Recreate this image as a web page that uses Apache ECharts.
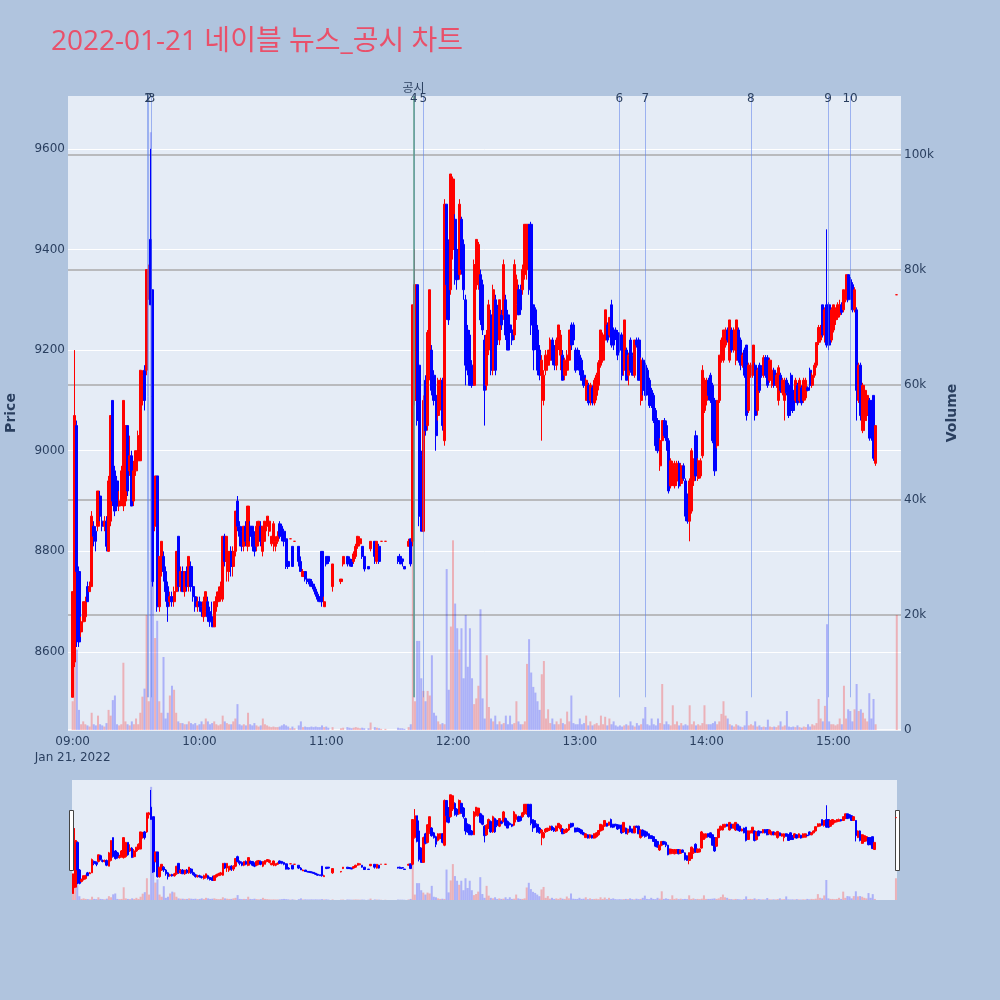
<!DOCTYPE html>
<html>
<head>
<meta charset="utf-8">
<script src="https://cdn.jsdelivr.net/npm/echarts/dist/echarts.min.js"></script>
<style>
html, body { margin: 0; padding: 0; background: #b0c4de; }
#chart { width: 1000px; height: 1000px; }
</style>
</head>
<body>
<div id="chart"></div>
<script>
var chartTitle = '2022-01-21 네이블 뉴스_공시 차트';
var dateLabel = 'Jan 21, 2022';

// one row per traded minute: [minute of hour, open, close, low, high, volume (thousand)]
var h09 = [
  [0, 8510, 8720, 8510, 8720, 5], [1, 8580, 9070, 8570, 9200, 13], [2, 9050, 8760, 8610, 9060, 14],
  [3, 8760, 8620, 8610, 8770, 3.5], [4, 8640, 8660, 8630, 8670, 1], [5, 8660, 8700, 8650, 8700, 1.5],
  [6, 8670, 8700, 8660, 8710, 1], [7, 8730, 8700, 8700, 8740, 0.8], [8, 8720, 8730, 8720, 8740, 0.6],
  [9, 8730, 8870, 8730, 8880, 3], [10, 8850, 8830, 8810, 8860, 1], [11, 8840, 8820, 8800, 8850, 0.8],
  [12, 8850, 8920, 8840, 8920, 2.5], [13, 8910, 8870, 8860, 8920, 1], [14, 8860, 8850, 8840, 8870, 0.8],
  [15, 8850, 8860, 8840, 8870, 0.6], [16, 8860, 8810, 8800, 8870, 1.2], [17, 8800, 8940, 8800, 8950, 3.5],
  [18, 8860, 9070, 8850, 9070, 2.5], [19, 9100, 8900, 8890, 9100, 5.2], [20, 8960, 8880, 8870, 8970, 6],
  [21, 8940, 8890, 8880, 8950, 1], [22, 8890, 8900, 8880, 8920, 0.8], [23, 8900, 8960, 8890, 8970, 1],
  [24, 8890, 9100, 8880, 9100, 11.7], [25, 8900, 9050, 8890, 9050, 1.5], [26, 9050, 8920, 8910, 9050, 1],
  [27, 8960, 8990, 8950, 9030, 0.8], [28, 8990, 8890, 8890, 9000, 1.5], [29, 8900, 8960, 8890, 8980, 1],
  [30, 8960, 9000, 8950, 9000, 2], [31, 8980, 9030, 8970, 9040, 1], [32, 8980, 9160, 8980, 9160, 3],
  [33, 9100, 9150, 9090, 9160, 5.8], [34, 9160, 9100, 9080, 9170, 7.2], [35, 9160, 9360, 9150, 9360, 20],
  [36, 9340, 9360, 9300, 9370, 5], [37, 9420, 9290, 9290, 9600, 104], [38, 9320, 8740, 8730, 9320, 76],
  [39, 8850, 8950, 8840, 8950, 16], [40, 8950, 8690, 8680, 8950, 19], [41, 8690, 8790, 8680, 8790, 5],
  [42, 8760, 8820, 8750, 8820, 3], [43, 8790, 8760, 8740, 8800, 12.7], [44, 8760, 8720, 8700, 8770, 2],
  [45, 8730, 8690, 8660, 8740, 3], [46, 8700, 8710, 8690, 8720, 6], [47, 8710, 8700, 8690, 8720, 7.7],
  [48, 8700, 8720, 8690, 8730, 7], [49, 8720, 8800, 8710, 8800, 3], [50, 8830, 8730, 8720, 8830, 1.5],
  [51, 8730, 8760, 8720, 8770, 1.2], [52, 8760, 8720, 8720, 8770, 1.2], [53, 8720, 8760, 8710, 8760, 1],
  [54, 8760, 8730, 8720, 8770, 1], [55, 8730, 8790, 8720, 8790, 1.5], [56, 8770, 8730, 8720, 8780, 1.2],
  [57, 8730, 8710, 8700, 8740, 1], [58, 8710, 8690, 8680, 8720, 1.2], [59, 8690, 8700, 8680, 8710, 0.8]
];
var h10 = [
  [0, 8700, 8690, 8680, 8710, 1], [1, 8690, 8680, 8670, 8700, 1.5], [2, 8670, 8700, 8660, 8710, 1],
  [3, 8680, 8720, 8670, 8720, 2], [4, 8700, 8670, 8660, 8710, 1.5], [5, 8680, 8660, 8650, 8690, 1],
  [6, 8670, 8650, 8650, 8700, 1.2], [7, 8650, 8700, 8650, 8700, 1.5], [8, 8690, 8710, 8680, 8720, 1],
  [9, 8700, 8720, 8700, 8730, 0.8], [10, 8710, 8730, 8700, 8740, 1], [11, 8705, 8830, 8700, 8830, 2.5],
  [12, 8830, 8780, 8770, 8835, 1.5], [13, 8780, 8830, 8740, 8830, 1.2], [14, 8760, 8800, 8740, 8800, 1],
  [15, 8800, 8770, 8750, 8810, 1], [16, 8770, 8800, 8750, 8810, 1.5], [17, 8800, 8880, 8790, 8880, 2],
  [18, 8900, 8850, 8840, 8910, 4.5], [19, 8850, 8830, 8810, 8860, 1], [20, 8840, 8810, 8800, 8850, 0.8],
  [21, 8810, 8850, 8800, 8850, 1], [22, 8850, 8820, 8810, 8860, 0.8], [23, 8810, 8890, 8800, 8890, 3],
  [24, 8850, 8830, 8820, 8860, 1], [25, 8850, 8810, 8800, 8850, 0.8], [26, 8830, 8800, 8790, 8840, 1.2],
  [27, 8810, 8850, 8800, 8860, 0.8], [28, 8820, 8860, 8810, 8860, 0.6], [29, 8850, 8820, 8810, 8860, 0.8],
  [30, 8800, 8850, 8790, 8850, 2], [31, 8820, 8860, 8820, 8860, 1], [32, 8850, 8870, 8840, 8870, 0.8],
  [33, 8840, 8860, 8830, 8870, 0.6], [34, 8815, 8830, 8810, 8830, 0.5], [35, 8820, 8855, 8800, 8860, 0.6],
  [36, 8810, 8820, 8800, 8830, 0.5], [37, 8820, 8830, 8815, 8840, 0.5], [38, 8855, 8830, 8825, 8860, 0.6],
  [39, 8850, 8830, 8820, 8855, 0.8], [40, 8840, 8820, 8810, 8845, 1], [41, 8825, 8770, 8765, 8830, 0.8],
  [42, 8780, 8770, 8765, 8790, 0.6], [43, 8825, 8825, 8825, 8825, 0.3], [44, 8810, 8770, 8770, 8810, 0.6],
  [45, 8820, 8820, 8820, 8820, 0.3], [47, 8810, 8780, 8770, 8810, 0.8], [48, 8780, 8760, 8760, 8790, 1.5],
  [49, 8750, 8760, 8750, 8765, 0.5], [50, 8760, 8745, 8740, 8760, 0.6], [51, 8745, 8740, 8735, 8750, 0.5],
  [52, 8745, 8735, 8730, 8745, 0.5], [53, 8740, 8730, 8730, 8745, 0.6], [54, 8735, 8725, 8720, 8735, 0.5],
  [55, 8725, 8715, 8710, 8730, 0.6], [56, 8715, 8705, 8700, 8720, 0.5], [57, 8710, 8700, 8700, 8710, 0.5],
  [58, 8800, 8700, 8690, 8800, 0.8], [59, 8690, 8700, 8690, 8710, 0.5]
];
var h11 = [
  [0, 8790, 8775, 8770, 8790, 0.6], [1, 8790, 8780, 8775, 8790, 0.4], [3, 8730, 8775, 8720, 8775, 0.5],
  [7, 8740, 8745, 8735, 8745, 0.3], [8, 8775, 8790, 8770, 8790, 0.4], [10, 8790, 8775, 8770, 8790, 0.5],
  [11, 8785, 8775, 8770, 8790, 0.4], [12, 8780, 8770, 8770, 8785, 0.3], [13, 8780, 8795, 8775, 8800, 0.4],
  [14, 8790, 8810, 8785, 8815, 0.5], [15, 8810, 8830, 8805, 8830, 0.4], [16, 8815, 8825, 8810, 8830, 0.3],
  [17, 8810, 8790, 8785, 8810, 0.4], [18, 8790, 8765, 8760, 8790, 0.3], [20, 8770, 8765, 8765, 8770, 0.3],
  [21, 8805, 8820, 8800, 8820, 1.3], [23, 8820, 8790, 8775, 8820, 0.5], [24, 8780, 8820, 8775, 8820, 0.4],
  [25, 8810, 8780, 8775, 8815, 0.3], [26, 8820, 8820, 8820, 8820, 0.2], [28, 8820, 8820, 8820, 8820, 0.2],
  [34, 8790, 8780, 8775, 8790, 0.4], [35, 8790, 8775, 8775, 8795, 0.3], [36, 8785, 8780, 8770, 8785, 0.3],
  [37, 8770, 8765, 8765, 8770, 0.2], [39, 8810, 8820, 8810, 8825, 0.5], [40, 8825, 8775, 8770, 8825, 1],
  [41, 8820, 9290, 8810, 9290, 46], [42, 9100, 9330, 9090, 9400, 5], [43, 9330, 9060, 9050, 9330, 15.5],
  [44, 9170, 8870, 8850, 9280, 15.5], [45, 8990, 8840, 8840, 9000, 9], [46, 8840, 9100, 8838, 9110, 6.8],
  [47, 9140, 9040, 9030, 9150, 5], [48, 9050, 9235, 9040, 9240, 6.8], [49, 9150, 9320, 9140, 9320, 6],
  [50, 9200, 9120, 9110, 9210, 13], [51, 9150, 9100, 9090, 9160, 3], [52, 9110, 9030, 9000, 9120, 2.5],
  [53, 9070, 9140, 9060, 9145, 1.5], [54, 9090, 9140, 9080, 9145, 1], [55, 9140, 9050, 9040, 9145, 1.2],
  [56, 9020, 9490, 9010, 9500, 1], [57, 9490, 9330, 9260, 9490, 28], [58, 9415, 9260, 9250, 9420, 7],
  [59, 9320, 9550, 9310, 9550, 18]
];
var h12 = [
  [0, 9400, 9540, 9380, 9545, 33], [1, 9460, 9340, 9330, 9470, 22], [2, 9400, 9340, 9320, 9410, 17.7],
  [3, 9350, 9490, 9340, 9500, 14], [4, 9460, 9360, 9350, 9465, 17.7], [5, 9410, 9320, 9300, 9420, 9],
  [6, 9300, 9170, 9130, 9310, 20], [7, 9240, 9160, 9150, 9250, 11], [8, 9230, 9130, 9130, 9240, 17.7],
  [9, 9170, 9130, 9125, 9180, 9], [10, 9130, 9370, 9130, 9380, 4.5], [11, 9330, 9420, 9320, 9420, 5.5],
  [12, 9330, 9410, 9320, 9415, 7.7], [13, 9350, 9260, 9250, 9360, 21], [14, 9330, 9240, 9230, 9340, 5.5],
  [15, 9220, 9120, 9050, 9230, 2], [16, 9130, 9230, 9120, 9240, 13], [17, 9200, 9290, 9190, 9300, 4],
  [18, 9270, 9160, 9150, 9280, 2], [19, 9160, 9320, 9150, 9330, 1.5], [20, 9300, 9160, 9150, 9310, 2.5],
  [21, 9280, 9230, 9210, 9290, 1], [22, 9220, 9300, 9210, 9300, 1.5], [23, 9270, 9250, 9240, 9280, 1],
  [24, 9270, 9370, 9260, 9380, 1.2], [25, 9300, 9230, 9220, 9310, 2.5], [26, 9270, 9200, 9200, 9280, 1],
  [27, 9250, 9235, 9230, 9260, 2.5], [28, 9240, 9220, 9210, 9245, 1], [29, 9230, 9370, 9220, 9380, 1.2],
  [30, 9290, 9340, 9260, 9350, 5], [31, 9320, 9270, 9270, 9330, 1.5], [32, 9320, 9280, 9270, 9330, 1],
  [33, 9320, 9360, 9310, 9370, 1], [34, 9350, 9450, 9340, 9450, 1.5], [35, 9360, 9450, 9340, 9450, 11.5],
  [36, 9450, 9320, 9310, 9450, 15.8], [37, 9450, 9250, 9230, 9455, 10], [38, 9290, 9200, 9160, 9290, 7.5],
  [39, 9280, 9210, 9200, 9285, 6.5], [40, 9240, 9160, 9150, 9250, 5], [41, 9200, 9150, 9140, 9210, 3.5],
  [42, 9150, 9180, 9020, 9190, 9.7], [43, 9100, 9150, 9090, 9160, 12], [44, 9160, 9190, 9150, 9200, 2],
  [45, 9170, 9200, 9160, 9200, 3.6], [46, 9180, 9220, 9170, 9225, 1.2], [47, 9220, 9180, 9170, 9225, 2],
  [48, 9200, 9170, 9160, 9210, 1], [49, 9170, 9220, 9160, 9225, 1.5], [50, 9210, 9250, 9200, 9250, 1],
  [51, 9190, 9230, 9160, 9240, 2], [52, 9190, 9140, 9140, 9200, 1.2], [53, 9150, 9180, 9140, 9185, 1],
  [54, 9160, 9190, 9150, 9200, 3.2], [55, 9180, 9240, 9170, 9240, 1.5], [56, 9250, 9210, 9200, 9255, 6],
  [57, 9250, 9220, 9210, 9255, 1.2], [58, 9200, 9160, 9155, 9205, 1], [59, 9200, 9170, 9160, 9205, 1]
];
var h13 = [
  [0, 9190, 9160, 9150, 9200, 2], [1, 9180, 9140, 9140, 9185, 1], [2, 9150, 9130, 9125, 9160, 1.2],
  [3, 9100, 9140, 9100, 9145, 2.5], [4, 9130, 9095, 9090, 9135, 0.8], [5, 9100, 9130, 9090, 9135, 1.5],
  [6, 9125, 9095, 9090, 9130, 0.8], [7, 9095, 9140, 9090, 9145, 1], [8, 9110, 9150, 9100, 9155, 1.2],
  [9, 9130, 9175, 9120, 9180, 0.8], [10, 9170, 9240, 9165, 9240, 2.5], [11, 9180, 9230, 9175, 9235, 1],
  [12, 9220, 9280, 9215, 9280, 2.3], [13, 9250, 9220, 9215, 9255, 0.8], [14, 9230, 9265, 9225, 9265, 2],
  [15, 9290, 9210, 9205, 9300, 1], [16, 9240, 9210, 9200, 9245, 1.5], [17, 9240, 9225, 9220, 9245, 0.8],
  [18, 9235, 9190, 9180, 9240, 0.6], [19, 9230, 9200, 9195, 9235, 0.8], [20, 9230, 9150, 9140, 9235, 0.6],
  [21, 9160, 9260, 9150, 9260, 0.8], [22, 9200, 9140, 9140, 9205, 1], [23, 9150, 9190, 9130, 9195, 0.8],
  [24, 9220, 9160, 9155, 9225, 1.5], [25, 9190, 9150, 9150, 9195, 0.8], [26, 9150, 9220, 9145, 9220, 0.6],
  [27, 9220, 9210, 9205, 9225, 1.2], [28, 9220, 9140, 9140, 9225, 0.8], [29, 9100, 9180, 9090, 9185, 1],
  [30, 9180, 9120, 9110, 9185, 2], [31, 9170, 9110, 9100, 9175, 4], [32, 9160, 9120, 9110, 9165, 1],
  [33, 9140, 9090, 9085, 9145, 0.8], [34, 9120, 9090, 9085, 9125, 2], [35, 9110, 9060, 9055, 9115, 1],
  [36, 9080, 9010, 9000, 9085, 0.8], [37, 9060, 9000, 8995, 9065, 2], [38, 8970, 9020, 8960, 9025, 1.2],
  [39, 9020, 9060, 9010, 9060, 8], [40, 9060, 9030, 9025, 9065, 1], [41, 9050, 9020, 9000, 9060, 1.5],
  [42, 9020, 8920, 8915, 9025, 1], [43, 8930, 8980, 8925, 8985, 0.8], [44, 8940, 8975, 8930, 8980, 4.3],
  [45, 8930, 8970, 8925, 8980, 1], [46, 8940, 8975, 8930, 8980, 1.5], [47, 8975, 8930, 8925, 8980, 0.8],
  [48, 8935, 8970, 8930, 8975, 1.2], [49, 8970, 8945, 8940, 8975, 0.8], [50, 8940, 8870, 8860, 8945, 1],
  [51, 8910, 8860, 8855, 8915, 0.8], [52, 8860, 8940, 8820, 8945, 4.3], [53, 8880, 9000, 8875, 9005, 1],
  [54, 8940, 8980, 8930, 8985, 1.5], [55, 9030, 8950, 8940, 9040, 0.8], [56, 8945, 8980, 8940, 8985, 1],
  [57, 8950, 8980, 8945, 8985, 0.8], [58, 8990, 9160, 8985, 9170, 1.2], [59, 9080, 9140, 9075, 9145, 4.3]
];
var h14 = [
  [0, 9100, 9140, 9090, 9145, 1], [1, 9140, 9110, 9100, 9145, 1], [2, 9150, 9100, 9095, 9155, 1],
  [3, 9130, 9020, 9015, 9135, 1.2], [4, 9100, 8960, 8950, 9105, 1.5], [5, 9010, 9100, 9005, 9100, 1],
  [6, 9100, 9190, 9095, 9190, 1.5], [7, 9180, 9220, 9175, 9225, 2.8], [8, 9180, 9240, 9175, 9240, 5],
  [9, 9210, 9240, 9205, 9245, 2.5], [10, 9240, 9220, 9215, 9245, 2], [11, 9180, 9260, 9175, 9260, 1],
  [12, 9240, 9200, 9195, 9245, 0.8], [13, 9200, 9240, 9195, 9245, 0.6], [14, 9180, 9260, 9170, 9260, 1],
  [15, 9240, 9180, 9175, 9245, 0.8], [16, 9220, 9170, 9160, 9225, 0.6], [17, 9170, 9190, 9165, 9195, 0.5],
  [18, 9200, 9150, 9145, 9205, 0.8], [19, 9210, 9070, 9060, 9210, 3.3], [20, 9080, 9170, 9075, 9175, 0.8],
  [21, 9150, 9170, 9145, 9175, 1], [22, 9150, 9210, 9145, 9210, 0.8], [23, 9170, 9070, 9060, 9175, 1.5],
  [24, 9080, 9160, 9070, 9165, 0.6], [25, 9170, 9120, 9115, 9175, 0.8], [26, 9165, 9150, 9145, 9170, 0.5],
  [27, 9150, 9185, 9145, 9190, 0.6], [28, 9185, 9150, 9145, 9190, 0.5], [29, 9185, 9130, 9125, 9190, 1.8],
  [30, 9140, 9180, 9135, 9185, 0.6], [31, 9130, 9160, 9125, 9165, 0.5], [32, 9160, 9130, 9125, 9165, 0.6],
  [33, 9130, 9150, 9125, 9155, 0.5], [34, 9100, 9165, 9090, 9170, 0.8], [35, 9150, 9120, 9115, 9155, 1.5],
  [36, 9115, 9140, 9110, 9145, 0.6], [37, 9100, 9140, 9060, 9145, 0.8], [38, 9140, 9115, 9110, 9145, 3.3],
  [39, 9130, 9070, 9065, 9135, 0.6], [40, 9150, 9080, 9075, 9155, 0.5], [41, 9120, 9080, 9075, 9125, 0.6],
  [42, 9100, 9140, 9095, 9145, 0.5], [43, 9130, 9095, 9090, 9135, 0.8], [44, 9100, 9140, 9095, 9145, 0.5],
  [45, 9125, 9095, 9090, 9130, 0.4], [46, 9100, 9140, 9095, 9145, 0.6], [47, 9105, 9140, 9100, 9145, 0.5],
  [48, 9125, 9120, 9118, 9128, 1], [49, 9160, 9130, 9125, 9165, 0.6], [50, 9130, 9150, 9125, 9155, 1],
  [51, 9150, 9170, 9145, 9175, 0.8], [52, 9170, 9215, 9165, 9215, 1.2], [53, 9215, 9245, 9210, 9250, 5.4],
  [54, 9220, 9245, 9215, 9250, 2], [55, 9290, 9230, 9225, 9290, 1.5], [56, 9230, 9280, 9215, 9285, 4.2],
  [57, 9290, 9210, 9205, 9440, 18.4], [58, 9290, 9210, 9200, 9295, 1.5], [59, 9220, 9280, 9215, 9285, 1]
];
var h15 = [
  [0, 9240, 9290, 9235, 9290, 1], [1, 9260, 9280, 9250, 9285, 0.8], [2, 9265, 9290, 9260, 9295, 1],
  [3, 9270, 9290, 9265, 9300, 2], [4, 9290, 9275, 9270, 9295, 1], [5, 9280, 9320, 9275, 9320, 7.7],
  [6, 9300, 9350, 9295, 9350, 2], [7, 9350, 9300, 9295, 9350, 3.6], [8, 9340, 9310, 9300, 9345, 3.3],
  [9, 9330, 9280, 9275, 9335, 1.5], [10, 9280, 9320, 9275, 9325, 3.6], [11, 9280, 9120, 9060, 9285, 8],
  [12, 9100, 9170, 9095, 9175, 3.3], [13, 9170, 9070, 9060, 9175, 3.6], [14, 9040, 9130, 9035, 9135, 3],
  [15, 9060, 9120, 9055, 9120, 2], [16, 9070, 9110, 9060, 9115, 1.5], [17, 9100, 9025, 9020, 9105, 6.4],
  [18, 9100, 9030, 9020, 9100, 2], [19, 9110, 8985, 8980, 9110, 5.4], [20, 8975, 9050, 8970, 9050, 1],
  [30, 9310, 9310, 9310, 9310, 20]
];

// news / disclosure markers (minutes after 09:00)
var newsMinutes = [35.4, 35.9, 37.3, 161.5, 161.3, 166, 258.7, 271, 320.9, 357.5, 367.9];
var newsLabels = ['1', '2', '3', '4', '공시', '5', '6', '7', '8', '9', '10'];
var newsLow = 8510;

var hourTicks = [0, 60, 120, 180, 240, 300, 360];
var priceTicks = [8600, 8800, 9000, 9200, 9400, 9600];
var volumeTicks = [0, 20000, 40000, 60000, 80000, 100000];

var FONT = '"DejaVu Sans", "Noto Sans CJK KR", sans-serif';
var TITLE_FONT = '"Open Sans", "Noto Sans CJK KR", sans-serif';
var INK = '#2a3f5f';
var UP = '#ff0000', DOWN = '#0000ff';
var UP_VOL = 'rgba(255,0,0,0.25)', DOWN_VOL = 'rgba(0,0,255,0.25)';
var priceMin = 8445, priceMax = 9705, volMax = 110300;

var candleData = [], volData = [];
var prevClose = null;
[h09, h10, h11, h12, h13, h14, h15].forEach(function (rows, hi) {
  rows.forEach(function (r) {
    var m = hi * 60 + r[0];
    var up = r[2] > r[1] || (r[2] === r[1] && (prevClose === null || r[2] >= prevClose));
    candleData.push([m, r[1], r[2], r[3], r[4]]);
    volData.push({ value: [m, r[5] * 1000], itemStyle: { color: up ? UP_VOL : DOWN_VOL } });
    prevClose = r[2];
  });
});

function fmtTime(v) {
  var h = 9 + Math.floor(v / 60), mm = v % 60;
  var s = (h < 10 ? '0' : '') + h + ':' + (mm < 10 ? '0' : '') + mm;
  return v === 0 ? s + '\n' + dateLabel : s;
}

var candleStyle = {
  color: UP, color0: DOWN, borderColor: UP, borderColor0: DOWN, borderWidth: 1
};

var newsMarks = newsMinutes.map(function (m, i) {
  var disc = newsLabels[i] === '공시';
  return [
    {
      coord: [m, newsLow],
      lineStyle: { color: disc ? '#5c9c8a' : 'rgba(95,130,235,0.55)', width: disc ? 1.5 : 1, type: 'solid' },
      label: { show: true, position: 'end', formatter: newsLabels[i], distance: disc ? 1 : -9 }
    },
    { coord: [m, priceMax] }
  ];
});

var chart = echarts.init(document.getElementById('chart'));
var option = {
  backgroundColor: '#b0c4de',
  animation: false,
  title: {
    text: chartTitle,
    left: 46,
    top: 23,
    textStyle: { color: '#e9506a', fontSize: 28, fontWeight: 'normal', fontFamily: TITLE_FONT }
  },
  grid: [
    { left: 68, right: 99, top: 96, height: 634, show: true, backgroundColor: '#e5ecf6', borderWidth: 0, outerBoundsMode: 'none' },
    { left: 72, right: 103, top: 780, height: 120, show: true, backgroundColor: '#e5ecf6', borderWidth: 0, outerBoundsMode: 'none' }
  ],
  xAxis: [
    {
      type: 'value', gridIndex: 0, min: -2.2, max: 392,
      axisLine: { show: false },
      axisTick: { show: false, customValues: hourTicks },
      splitLine: { show: false },
      axisLabel: {
        customValues: hourTicks, formatter: fmtTime, color: INK,
        fontSize: 12, fontFamily: FONT, margin: 4, lineHeight: 16
      }
    },
    { type: 'value', gridIndex: 1, min: -0.5, max: 390.5, show: false }
  ],
  yAxis: [
    {
      type: 'value', gridIndex: 0, min: priceMin, max: priceMax,
      name: 'Price', nameLocation: 'middle', nameGap: 50,
      nameTextStyle: { color: INK, fontSize: 14, fontWeight: 'bold', fontFamily: FONT },
      axisLine: { show: false },
      axisTick: { show: false, customValues: priceTicks },
      axisLabel: {
        customValues: priceTicks, color: INK, fontSize: 12, fontFamily: FONT, margin: 3,
        formatter: function (v) { return String(v); }
      },
      splitLine: { show: true, lineStyle: { color: '#ffffff', width: 1 } }
    },
    {
      type: 'value', gridIndex: 0, position: 'right', min: 0, max: volMax,
      name: 'Volume', nameLocation: 'middle', nameGap: 44,
      nameTextStyle: { color: INK, fontSize: 14, fontWeight: 'bold', fontFamily: FONT },
      axisLine: { show: false },
      axisTick: { show: false, customValues: volumeTicks },
      axisLabel: {
        customValues: volumeTicks, color: INK, fontSize: 12, fontFamily: FONT, margin: 3,
        formatter: function (v) { return v === 0 ? '0' : (v / 1000) + 'k'; }
      },
      splitLine: {
        show: true,
        lineStyle: { color: ['#ffffff', '#aaaaaa', '#aaaaaa', '#aaaaaa', '#aaaaaa', '#aaaaaa'], width: 1.5 }
      }
    },
    { type: 'value', gridIndex: 1, min: priceMin, max: priceMax, show: false },
    { type: 'value', gridIndex: 1, min: 0, max: volMax, show: false }
  ],
  series: [
    {
      name: 'Volume', type: 'bar', xAxisIndex: 0, yAxisIndex: 1,
      data: volData, barWidth: 2, silent: true
    },
    {
      name: 'Price', type: 'candlestick', xAxisIndex: 0, yAxisIndex: 0,
      data: candleData, encode: { x: 0, y: [1, 2, 3, 4] },
      barWidth: 2.6, itemStyle: candleStyle, silent: true,
      markLine: {
        symbol: ['none', 'none'], silent: true, animation: false,
        label: { color: INK, fontSize: 12, fontFamily: FONT },
        data: newsMarks
      }
    },
    {
      name: 'VolumeMini', type: 'bar', xAxisIndex: 1, yAxisIndex: 3,
      data: volData, barWidth: 2, silent: true
    },
    {
      name: 'PriceMini', type: 'candlestick', xAxisIndex: 1, yAxisIndex: 2,
      data: candleData, encode: { x: 0, y: [1, 2, 3, 4] },
      barWidth: 2.2, itemStyle: candleStyle, silent: true
    }
  ],
  graphic: [
    { type: 'rect', left: 69, top: 810, shape: { width: 4, height: 60 }, style: { fill: '#ffffff', stroke: '#444444', lineWidth: 1 } },
    { type: 'rect', left: 895, top: 810, shape: { width: 4, height: 60 }, style: { fill: '#ffffff', stroke: '#444444', lineWidth: 1 } }
  ]
};
chart.setOption(option);
</script>
</body>
</html>
